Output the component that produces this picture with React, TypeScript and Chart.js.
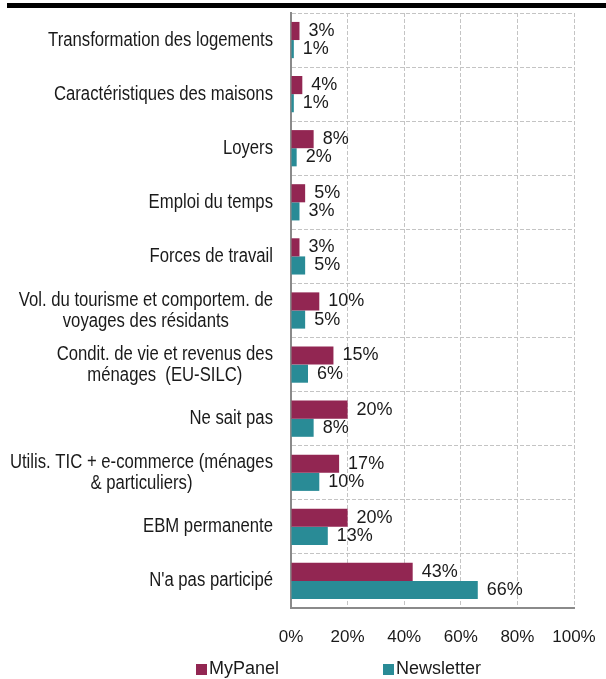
import React, { useEffect, useRef } from "react";
import { Chart, registerables } from "chart.js";

Chart.register(...registerables);

const categories: (string | string[])[] = [
  "Transformation des logements",
  "Caractéristiques des maisons",
  "Loyers",
  "Emploi du temps",
  "Forces de travail",
  ["Vol. du tourisme et comportem. de", "voyages des résidants"],
  ["Condit. de vie et revenus des", "ménages  (EU-SILC)"],
  "Ne sait pas",
  ["Utilis. TIC + e-commerce (ménages", "& particuliers)"],
  "EBM permanente",
  "N'a pas participé",
];

const myPanel = [3, 4, 8, 5, 3, 10, 15, 20, 17, 20, 43];
const newsletter = [1, 1, 2, 3, 5, 5, 6, 8, 10, 13, 66];

const seriesNames = ["MyPanel", "Newsletter"];
const seriesColors = ["#922652", "#298B96"];
const xTicks = [0, 20, 40, 60, 80, 100];

const SANS = "'Liberation Sans', Arial, sans-serif";
const SQUEEZE = 0.835;

const topBarPlugin = {
  id: "topBar",
  beforeDraw(chart: any) {
    const ctx = chart.ctx;
    ctx.save();
    ctx.fillStyle = "#000";
    ctx.fillRect(7, 3, chart.width - 7, 5);
    ctx.restore();
  },
};

// category labels drawn condensed; multi-line blocks right-aligned, lines centred
const categoryLabelPlugin = {
  id: "categoryLabels",
  afterDraw(chart: any) {
    const ctx = chart.ctx;
    const yScale = chart.scales.y;
    const rightX = yScale.right - 18;
    const lineH = 21;
    ctx.save();
    ctx.font = `20px ${SANS}`;
    ctx.fillStyle = "#1a1a1a";
    ctx.textAlign = "center";
    ctx.textBaseline = "middle";
    chart.data.labels.forEach((lab: any, i: number) => {
      const lines: string[] = Array.isArray(lab) ? lab : [lab];
      const maxW = Math.max(...lines.map((l) => ctx.measureText(l).width)) * SQUEEZE;
      const cx = rightX - maxW / 2;
      const cy = yScale.getPixelForValue(i);
      lines.forEach((ln: string, k: number) => {
        const y = cy + (k - (lines.length - 1) / 2) * lineH;
        ctx.save();
        ctx.translate(cx, y);
        ctx.scale(SQUEEZE, 1);
        ctx.fillText(ln, 0, 0);
        ctx.restore();
      });
    });
    ctx.restore();
  },
};

const valueLabelPlugin = {
  id: "valueLabels",
  afterDatasetsDraw(chart: any) {
    const ctx = chart.ctx;
    ctx.save();
    ctx.font = `18px ${SANS}`;
    ctx.fillStyle = "#1a1a1a";
    ctx.textAlign = "left";
    ctx.textBaseline = "middle";
    chart.data.datasets.forEach((ds: any, di: number) => {
      const meta = chart.getDatasetMeta(di);
      meta.data.forEach((bar: any, i: number) => {
        ctx.fillText(`${ds.data[i]}%`, bar.x + 9, bar.y);
      });
    });
    ctx.restore();
  },
};

const customLegendPlugin = {
  id: "customLegend",
  afterDraw(chart: any) {
    const ctx = chart.ctx;
    ctx.save();
    ctx.font = `18px ${SANS}`;
    ctx.textBaseline = "middle";
    ctx.textAlign = "left";
    const startX = 196;
    const itemW = 187;
    const cy = 669;
    chart.data.datasets.forEach((ds: any, i: number) => {
      const x = startX + i * itemW;
      ctx.fillStyle = ds.backgroundColor;
      ctx.fillRect(x, cy - 5, 11, 11);
      ctx.fillStyle = "#1a1a1a";
      ctx.fillText(ds.label, x + 13, cy);
    });
    ctx.restore();
  },
};

export default function App() {
  const ref = useRef<HTMLCanvasElement | null>(null);

  useEffect(() => {
    if (!ref.current) return;
    const chart = new Chart(ref.current, {
      type: "bar",
      data: {
        labels: categories,
        datasets: [
          {
            label: seriesNames[0],
            data: myPanel,
            backgroundColor: seriesColors[0],
            categoryPercentage: 0.67,
            barPercentage: 1,
          },
          {
            label: seriesNames[1],
            data: newsletter,
            backgroundColor: seriesColors[1],
            categoryPercentage: 0.67,
            barPercentage: 1,
          },
        ],
      },
      options: {
        indexAxis: "y",
        animation: false,
        responsive: false,
        maintainAspectRatio: false,
        layout: { padding: { left: 0, right: 32, top: 13, bottom: 0 } },
        plugins: {
          legend: { display: false },
          tooltip: { enabled: false },
        },
        scales: {
          x: {
            min: 0,
            max: 100,
            afterBuildTicks: (scale: any) => {
              scale.ticks = xTicks.map((v) => ({ value: v }));
            },
            afterFit: (scale: any) => {
              scale.height = 71;
              scale.paddingLeft = 0;
              scale.paddingRight = 0;
            },
            ticks: {
              callback: (v: any) => `${v}%`,
              font: { family: SANS, size: 17 },
              color: "#1a1a1a",
              padding: 19,
              maxRotation: 0,
            },
            grid: {
              color: "#c4c4c4",
              lineWidth: 1,
              drawTicks: false,
            },
            border: { display: true, color: "#8a8a8a", width: 2, dash: [4, 2] },
          },
          y: {
            afterFit: (scale: any) => {
              scale.width = 291;
              scale.paddingTop = 0;
              scale.paddingBottom = 0;
            },
            ticks: { display: false },
            grid: {
              color: "#c4c4c4",
              lineWidth: 1,
              drawTicks: false,
              offset: true,
            },
            border: { display: true, color: "#8a8a8a", width: 2, dash: [4, 2] },
          },
        },
      },
      plugins: [topBarPlugin, categoryLabelPlugin, valueLabelPlugin, customLegendPlugin],
    } as any);
    return () => chart.destroy();
  }, []);

  return (
    <div style={{ position: "absolute", left: 0, top: 0, width: 606, height: 679, background: "#fff" }}>
      <canvas ref={ref} width={606} height={679} style={{ display: "block", width: 606, height: 679 }} />
    </div>
  );
}
